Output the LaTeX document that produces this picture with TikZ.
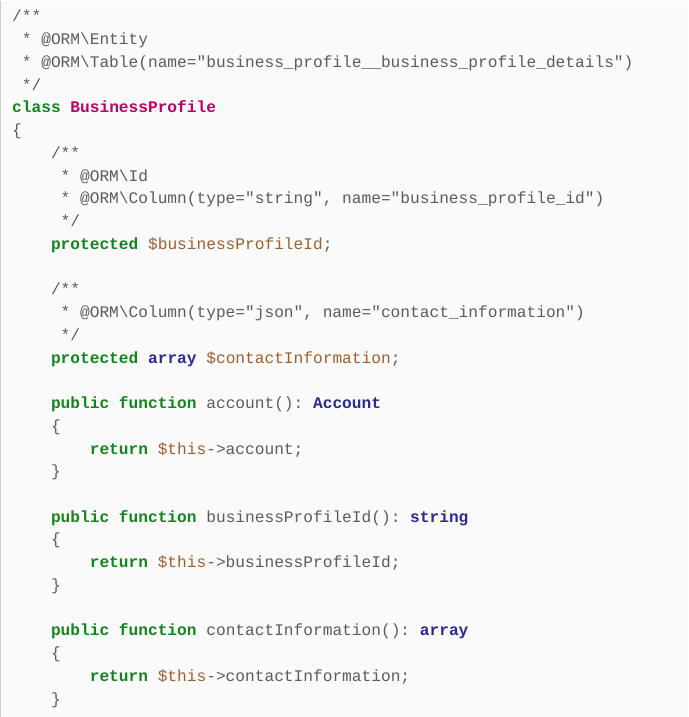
\documentclass[tikz,border=0pt]{standalone}
\usepackage{fontspec}
\setmonofont{Liberation Mono}
\definecolor{bg}{HTML}{FAFAFA}
\definecolor{tx}{HTML}{5C5C5C}
\definecolor{kwc}{HTML}{14851E}
\definecolor{tyc}{HTML}{2B2B8C}
\definecolor{vac}{HTML}{9C6030}
\definecolor{clc}{HTML}{B8006A}
\newcommand\kw[1]{{\bfseries\color{kwc}#1}}
\newcommand\ty[1]{{\bfseries\color{tyc}#1}}
\newcommand\va[1]{{\color{vac}#1}}
\newcommand\cls[1]{{\bfseries\color{clc}#1}}
\newcommand\bs{\textbackslash}
\newcommand\codeln[3]{\node[ln] (l#1) at ({12+9.72*#2},{-21.5-22.77*#1}) {#3};}
\tikzset{ln/.style={anchor=base west,inner sep=0pt,font=\ttfamily\fontsize{16.2}{20}\selectfont,text=tx}}
\begin{document}
\begin{tikzpicture}[x=1pt,y=1pt]
\fill[bg] (0,0) rectangle (689,-717);
\draw[gray!40,line width=1pt] (1,0) -- (1,-717);
\useasboundingbox (0,0) rectangle (689,-717);
\codeln{0}{0}{/**}
\codeln{1}{1}{* @ORM\bs Entity}
\codeln{2}{1}{* @ORM\bs Table(name="business\_profile\_\_business\_profile\_details")}
\codeln{3}{1}{*/}
\codeln{4}{0}{\kw{class} \cls{BusinessProfile}}
\codeln{5}{0}{\{}
\codeln{6}{4}{/**}
\codeln{7}{5}{* @ORM\bs Id}
\codeln{8}{5}{* @ORM\bs Column(type="string", name="business\_profile\_id")}
\codeln{9}{5}{*/}
\codeln{10}{4}{\kw{protected} \va{\$businessProfileId};}
\codeln{12}{4}{/**}
\codeln{13}{5}{* @ORM\bs Column(type="json", name="contact\_information")}
\codeln{14}{5}{*/}
\codeln{15}{4}{\kw{protected} \ty{array} \va{\$contactInformation};}
\codeln{17}{4}{\kw{public} \kw{function} account(): \ty{Account}}
\codeln{18}{4}{\{}
\codeln{19}{8}{\kw{return} \va{\$this}->account;}
\codeln{20}{4}{\}}
\codeln{22}{4}{\kw{public} \kw{function} businessProfileId(): \ty{string}}
\codeln{23}{4}{\{}
\codeln{24}{8}{\kw{return} \va{\$this}->businessProfileId;}
\codeln{25}{4}{\}}
\codeln{27}{4}{\kw{public} \kw{function} contactInformation(): \ty{array}}
\codeln{28}{4}{\{}
\codeln{29}{8}{\kw{return} \va{\$this}->contactInformation;}
\codeln{30}{4}{\}}
\end{tikzpicture}
\end{document}
